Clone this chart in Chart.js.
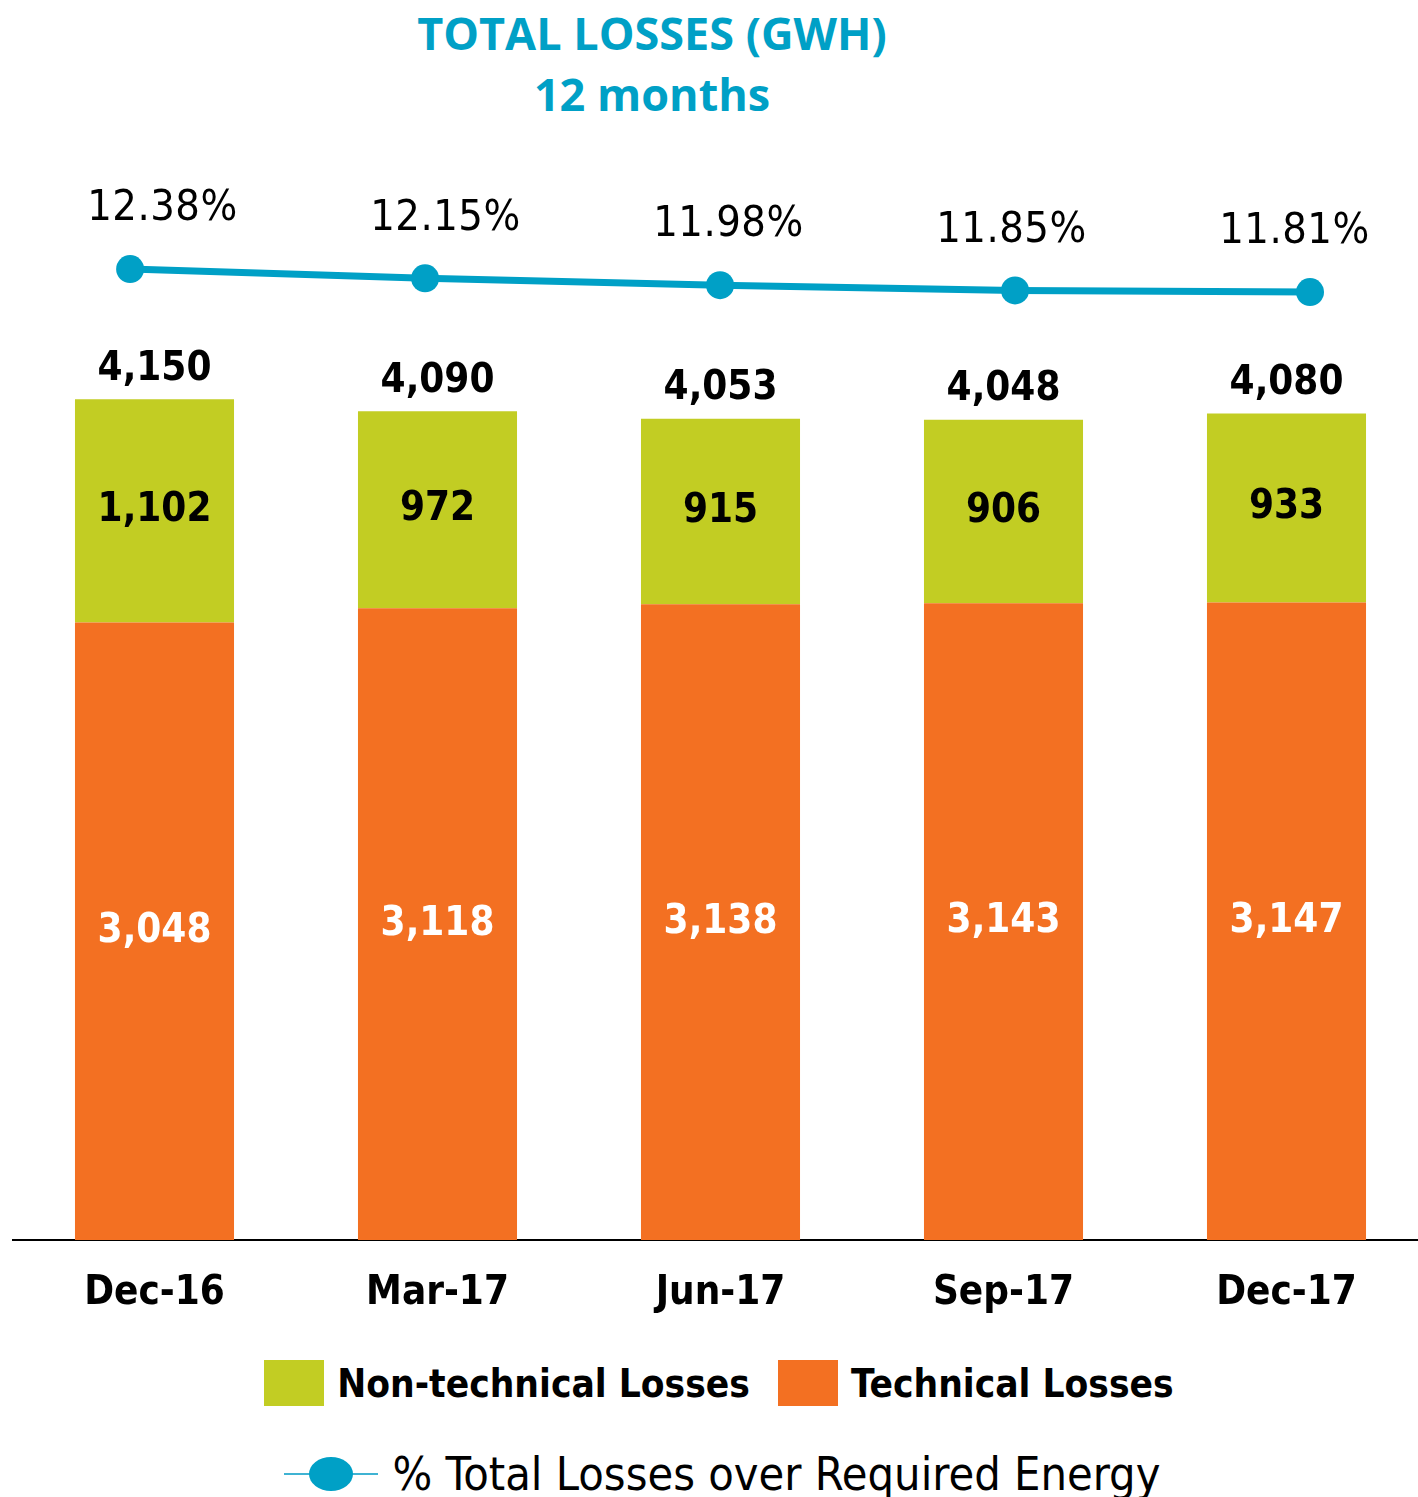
<!DOCTYPE html>
<html>
<head>
<meta charset="utf-8">
<script src="https://cdn.jsdelivr.net/npm/chart.js@4.4.1/dist/chart.umd.min.js"></script>
<style>
    html, body { margin: 0; padding: 0; background: #fff; overflow: hidden; width: 1418px; height: 1497px; }
    #wrap { position: absolute; left: 0; top: 0; width: 1428px; height: 1340px; }
    #title {
        position: absolute; left: 352px; width: 600px; top: 2px; text-align: center;
        font-family: 'Open Sans', sans-serif; font-weight: 700; font-size: 45px; line-height: 61px; color: #00a0c6;
    }
    .legend-row { position: absolute; left: 0; width: 1418px; display: flex; justify-content: center; align-items: center; color: #000; box-sizing: border-box; }
    #legend1 { top: 1360px; height: 46px; padding-left: 20px; font-family: 'DejaVu Sans Condensed', 'DejaVu Sans', sans-serif; font-weight: 700; font-size: 38.5px; }
    #legend2 { top: 1446px; height: 56px; padding-left: 26px; font-family: 'DejaVu Sans Condensed', 'DejaVu Sans', sans-serif; font-size: 46.5px; }
    .box { width: 60px; height: 46px; margin-right: 13px; }
    .item { display: flex; align-items: center; margin: 0 14px; }
    .line-sym { position: relative; width: 94px; height: 40px; margin-right: 15px; }
    .line-sym .bar { position: absolute; left: 0; right: 0; top: 19px; height: 2px; background: #3fb3d3; }
    .line-sym .dot { position: absolute; left: 25px; top: 3px; width: 44px; height: 34px; border-radius: 50%; background: #00a0c6; }
</style>
</head>
<body>
<div id="title">TOTAL LOSSES (GWH)<br>12 months</div>
<div id="wrap"><canvas id="chart" width="1428" height="1340"></canvas></div>
<div id="legend1" class="legend-row">
    <div class="item"><div class="box" style="background:#c2cd23"></div>Non-technical Losses</div>
    <div class="item"><div class="box" style="background:#f37022"></div>Technical Losses</div>
</div>
<div id="legend2" class="legend-row">
    <div class="item"><div class="line-sym"><div class="bar"></div><div class="dot"></div></div>% Total Losses over Required Energy</div>
</div>
<script>
const FONT = "'DejaVu Sans Condensed', 'DejaVu Sans', sans-serif";

const categories = ['Dec-16', 'Mar-17', 'Jun-17', 'Sep-17', 'Dec-17'];
const technicalLosses = [3048, 3118, 3138, 3143, 3147];
const nonTechnicalLosses = [1102, 972, 915, 906, 933];
const totalLosses = [4150, 4090, 4053, 4048, 4080];
const lossPercent = [12.38, 12.15, 11.98, 11.85, 11.81];

const GREEN = '#c2cd23';
const ORANGE = '#f37022';
const BLUE = '#00a0c6';

const fmt = v => v.toLocaleString('en-US');

// labels inside bars, totals on top, percentages over the line
const valueLabels = {
    id: 'valueLabels',
    afterDatasetsDraw(chart) {
        const ctx = chart.ctx;
        const techMeta = chart.getDatasetMeta(0);
        const nonTechMeta = chart.getDatasetMeta(1);
        const lineMeta = chart.getDatasetMeta(2);
        const xScale = chart.scales.x;
        ctx.save();
        ctx.textAlign = 'center';
        ctx.textBaseline = 'middle';
        ctx.font = `bold 40px ${FONT}`;

        techMeta.data.forEach((bar, i) => {
            ctx.fillStyle = '#fff';
            ctx.fillText(fmt(technicalLosses[i]), bar.x, (bar.y + bar.base) / 2);
        });
        nonTechMeta.data.forEach((bar, i) => {
            ctx.fillStyle = '#000';
            ctx.fillText(fmt(nonTechnicalLosses[i]), bar.x, (bar.y + bar.base) / 2);
            ctx.fillText(fmt(totalLosses[i]), bar.x, bar.y - 30);
        });

        ctx.font = `43px ${FONT}`;
        ctx.letterSpacing = '0.5px';
        lineMeta.data.forEach((pt, i) => {
            ctx.fillStyle = '#000';
            ctx.fillText(lossPercent[i].toFixed(2) + '%', xScale.getPixelForValue(i) + 8, pt.y - 60);
        });
        ctx.restore();
    }
};

new Chart(document.getElementById('chart'), {
    data: {
        labels: categories,
        datasets: [
            {
                type: 'bar',
                label: 'Technical Losses',
                data: technicalLosses,
                backgroundColor: ORANGE,
                xAxisID: 'x',
                yAxisID: 'y',
                stack: 'losses',
                grouped: false,
                categoryPercentage: 1,
                barPercentage: 0.562,
                order: 1
            },
            {
                type: 'bar',
                label: 'Non-technical Losses',
                data: nonTechnicalLosses,
                backgroundColor: GREEN,
                xAxisID: 'x',
                yAxisID: 'y',
                stack: 'losses',
                grouped: false,
                categoryPercentage: 1,
                barPercentage: 0.562,
                order: 1
            },
            {
                type: 'line',
                label: '% Total Losses over Required Energy',
                data: lossPercent.map((v, i) => ({ x: i, y: v })),
                borderColor: BLUE,
                backgroundColor: BLUE,
                borderWidth: 7,
                pointRadius: 14,
                pointBackgroundColor: BLUE,
                pointBorderWidth: 0,
                xAxisID: 'x2',
                yAxisID: 'y1',
                tension: 0,
                order: 0
            }
        ]
    },
    options: {
        responsive: false,
        animation: false,
        layout: { autoPadding: false, padding: { top: 150, left: 13, right: 0, bottom: 0 } },
        plugins: {
            legend: { display: false },
            tooltip: { enabled: false },
            title: { display: false }
        },
        scales: {
            x: {
                type: 'category',
                stacked: true,
                offset: true,
                grid: { display: false, drawTicks: false },
                border: { display: true, color: '#000', width: 2 },
                ticks: { color: '#000', font: { family: FONT, size: 40, weight: 'bold' }, padding: 30 },
                afterFit(scale) {
                    scale.height = 100;
                    scale.paddingLeft = 0;
                    scale.paddingRight = 0;
                }
            },
            x2: { type: 'linear', display: false, min: -0.397, max: 4.4 },
            y: { stacked: true, display: false, min: 0, max: 5380 },
            y1: { display: false, min: -11.68, max: 15.33 }
        }
    },
    plugins: [valueLabels]
});
</script>
</body>
</html>
